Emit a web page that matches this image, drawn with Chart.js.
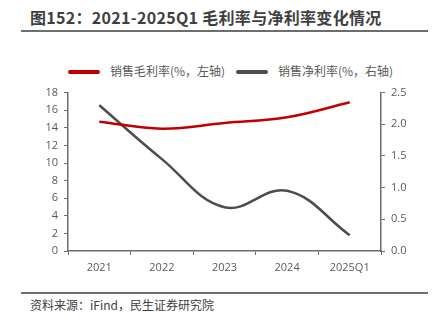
<!DOCTYPE html>
<html>
<head>
<meta charset="utf-8">
<script src="https://cdn.jsdelivr.net/npm/chart.js@4"></script>
<style>
  body{margin:0;width:440px;height:325px;background:#fff;position:relative;overflow:hidden;
       font-family:"Noto Sans CJK SC","Noto Sans",sans-serif;}
  .title{position:absolute;left:30px;top:5px;font-size:16px;font-weight:bold;color:#3f3f3f;letter-spacing:0.3px;}
  .rule{position:absolute;left:21px;width:407px;height:2px;background:#6d6d6d;}
  .legend{position:absolute;top:62px;font-size:12px;color:#595959;}
  .legend span.sw{display:inline-block;width:32px;height:4px;border-radius:2px;vertical-align:middle;margin-right:10px;position:relative;top:-1px;}
  .src{position:absolute;left:30px;top:296px;font-size:12px;color:#404040;}
  #wrap{position:absolute;left:0;top:80px;width:440px;height:205px;}
</style>
</head>
<body>
<div class="title">图152：2021-2025Q1 毛利率与净利率变化情况</div>
<div class="rule" style="top:30px"></div>
<div class="legend" style="left:68px"><span class="sw" style="background:#c00000"></span>销售毛利率(%，左轴)</div>
<div class="legend" style="left:236px"><span class="sw" style="background:#4d4d4d"></span>销售净利率(%，右轴)</div>
<div id="wrap"><canvas id="chart"></canvas></div>
<div class="rule" style="top:292px"></div>
<div class="src">资料来源：iFind，民生证券研究院</div>
<script>
// data
const years = ["2021", "2022", "2023", "2024", "2025Q1"];
const grossMargin = [14.7, 13.9, 14.55, 15.2, 16.9];
const netMargin = [2.30, 1.45, 0.69, 0.95, 0.25];

const tickFont = {family: "'Open Sans','Noto Sans',sans-serif", size: 11};
const tickColor = "#595959";
const axisColor = "#6d6d6d";

const ctx = document.getElementById("chart").getContext("2d");
new Chart(ctx, {
  type: "line",
  data: {
    labels: years,
    datasets: [
      {label: "销售毛利率(%，左轴)", data: grossMargin, borderColor: "#c00000", borderWidth: 2.5,
       pointRadius: 0, tension: 0.4, yAxisID: "y"},
      {label: "销售净利率(%，右轴)", data: netMargin, borderColor: "#4d4d4d", borderWidth: 2.5,
       pointRadius: 0, tension: 0.4, yAxisID: "y1"}
    ]
  },
  options: {
    responsive: true, maintainAspectRatio: false, animation: false,
    layout: {padding: {top: 11, left: 0, right: 0, bottom: 0}},
    plugins: {legend: {display: false}, tooltip: {enabled: false}},
    scales: {
      x: {
        offset: true,
        grid: {offset: true, drawOnChartArea: false, drawTicks: true, tickLength: 4, color: axisColor},
        border: {color: axisColor, width: 1.5},
        ticks: {font: tickFont, color: tickColor, padding: 6},
        afterFit: s => { s.height = 34; }
      },
      y: {
        position: "left", min: 0, max: 18,
        grid: {drawOnChartArea: false, drawTicks: true, tickLength: 4, color: axisColor},
        border: {color: axisColor, width: 1.5},
        ticks: {stepSize: 2, font: tickFont, color: tickColor, padding: 6},
        afterFit: s => { s.width = 68; }
      },
      y1: {
        position: "right", min: 0, max: 2.5,
        grid: {drawOnChartArea: false, drawTicks: true, tickLength: 4, color: axisColor},
        border: {color: axisColor, width: 1.5},
        ticks: {stepSize: 0.5, font: tickFont, color: tickColor, padding: 6,
                callback: v => v.toFixed(1)},
        afterFit: s => { s.width = 59; }
      }
    }
  }
});
</script>
</body>
</html>
